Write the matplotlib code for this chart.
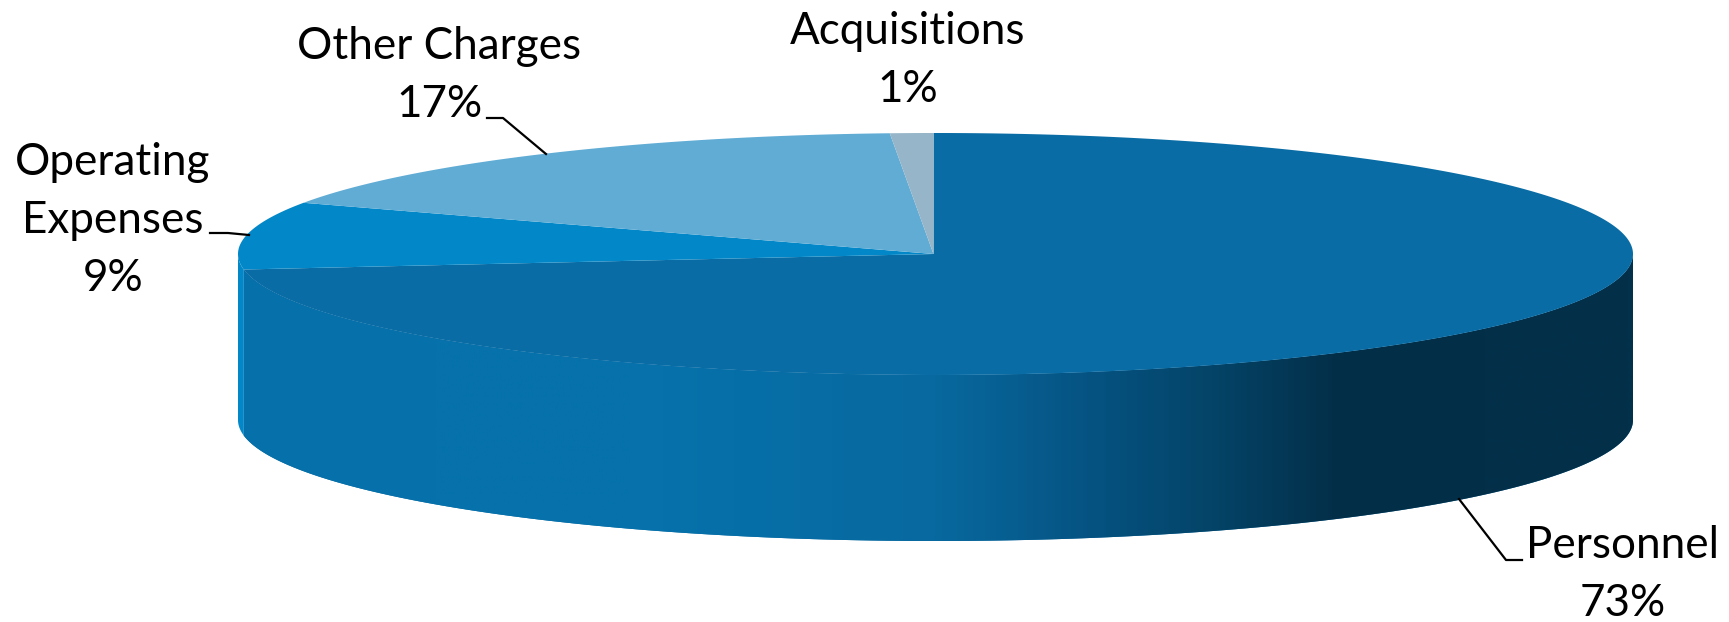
import numpy as np
import matplotlib.pyplot as plt
from matplotlib.colors import LinearSegmentedColormap
from matplotlib.patches import Polygon

categories = ['Personnel', 'Operating\nExpenses', 'Other Charges', 'Acquisitions']
shares = [73, 9, 17, 1]
colors = ['#096CA5', '#0288C8', '#60ACD5', '#96B5C8']

# shading along the front wall of the pie, left to right
wall_pos = [0.0, 0.28, 0.50, 0.62, 0.70, 0.79, 1.0]
wall_colors = ['#0670AA', '#0672AC', '#08699F', '#05517F', '#044468', '#032E48', '#03304A']

plt.rcParams['font.family'] = ['Lato', 'DejaVu Sans']

# axes in image pixels
fig = plt.figure(figsize=(17.29, 6.22), dpi=100)
ax = fig.add_axes([0, 0, 1, 1])

cx, cy = 935.5, 254
rx, ry = 697.5, 121
depth = 166
apex_x = 933.5
start_angle = -0.16


def rim(start, end, dy=0):
    # angles in degrees, clockwise from 12 o'clock
    t = np.radians(np.linspace(start, end, 400))
    return np.column_stack([cx + rx * np.sin(t), cy - ry * np.cos(t) + dy])


edges = start_angle + np.cumsum([0] + shares) * 3.6

# front wall, only the part between 90 and 270 degrees shows
for i, share in enumerate(shares):
    start = max(edges[i], 90)
    end = min(edges[i + 1], 270)
    if end <= start:
        continue
    wall = np.vstack([rim(start, end), rim(start, end, depth)[::-1]])
    poly = Polygon(wall, closed=True, facecolor=colors[i], edgecolor='none')
    ax.add_patch(poly)
    if i == 0:
        cmap = LinearSegmentedColormap.from_list('wall', list(zip(wall_pos, wall_colors)))
        grad = np.linspace(0, 1, 700).reshape(1, -1)
        im = ax.imshow(grad, cmap=cmap, aspect='auto',
                       extent=[cx - rx, cx + rx, cy + ry + depth, cy - ry], zorder=1)
        im.set_clip_path(poly)

# top face
for i, share in enumerate(shares):
    top = np.vstack([[apex_x, cy], rim(edges[i], edges[i + 1])])
    ax.add_patch(Polygon(top, closed=True, facecolor=colors[i], edgecolor='none', zorder=2))

# leader lines
ax.plot([487, 503, 546], [118, 118, 154], color='black', lw=1.6, zorder=3)
ax.plot([210, 228, 249], [233, 233, 235], color='black', lw=1.6, zorder=3)
ax.plot([1522, 1506, 1459], [560, 560, 499], color='black', lw=1.6, zorder=3)

# labels, name and share on separate lines
label_pos = [(1623, 558), (113, 175), (439, 59), (908, 44)]
line_gap = 58
for name, share, (x, y) in zip(categories, shares, label_pos):
    lines = name.split('\n') + [f'{share}%']
    for k, line in enumerate(lines):
        ax.text(x, y + k * line_gap, line, ha='center', va='baseline',
                fontsize=31.7, color='black', zorder=4)

ax.set_xlim(0, 1729)
ax.set_ylim(622, 0)
ax.axis('off')

plt.savefig('out.png', dpi=100, facecolor='white')
